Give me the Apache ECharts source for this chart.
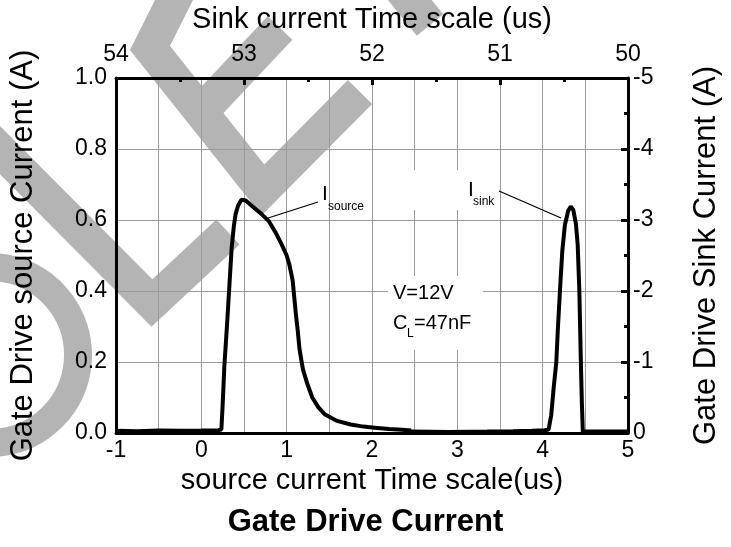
<!DOCTYPE html>
<html>
<head>
<meta charset="utf-8">
<script src="https://cdn.jsdelivr.net/npm/echarts@6/dist/echarts.min.js"></script>
<style>
html,body{margin:0;padding:0;background:#fff;}
#c{width:731px;height:547px;}
</style>
</head>
<body>
<div id="c"></div>
<script>
// ---- data ----
const sourceTimeUs = [-1,-0.75,-0.5,-0.25,0,0.2,0.235,0.25,0.27,0.3,0.33,0.355,0.38,0.4,0.43,0.47,0.52,0.6,0.7,0.79,0.87,0.94,1.0,1.03,1.07,1.09,1.11,1.13,1.15,1.19,1.24,1.3,1.37,1.45,1.59,1.75,1.9,2.03,2.2,2.35,2.46];
const sourceCurrentA = [0.006,0.005,0.007,0.006,0.007,0.008,0.01,0.08,0.19,0.3,0.42,0.52,0.58,0.615,0.64,0.657,0.655,0.638,0.618,0.597,0.565,0.532,0.5,0.476,0.43,0.38,0.33,0.288,0.237,0.18,0.14,0.1,0.073,0.052,0.034,0.024,0.018,0.015,0.011,0.009,0.007];
const sinkTimeUs = [51.7,51.4,51.1,50.9,50.75,50.65,50.62,50.6,50.58,50.56,50.547,50.527,50.513,50.493,50.467,50.447,50.427,50.407,50.393,50.38,50.373,50.367,50.36,50.353,50.3,50.15,50.0];
const sinkCurrentA = [-0.02,-0.015,-0.02,-0.025,-0.03,-0.04,-0.05,-0.25,-0.65,-1.0,-1.5,-2.15,-2.57,-2.93,-3.13,-3.19,-3.14,-2.95,-2.65,-2.0,-1.4,-0.9,-0.4,-0.02,-0.02,-0.02,-0.02];
const bottomTicks = [-1,0,1,2,3,4,5];
const leftTicks = ['0.0','0.2','0.4','0.6','0.8','1.0'];
const rightTicks = [0,-1,-2,-3,-4,-5];
const topTicks = [54,53,52,51,50];

const FONT = 'Liberation Sans, Arial, sans-serif';
const chart = echarts.init(document.getElementById('c'), null, {renderer:'canvas'});
const srcData = sourceTimeUs.map((t,i)=>[t, sourceCurrentA[i]]);
const sinkData = sinkTimeUs.map((t,i)=>[t, sinkCurrentA[i]]);
const GL = {show:true, lineStyle:{color:'#9a9a9a', width:1}};
const AL = {show:true, onZero:false, lineStyle:{color:'#000', width:3}};
const WM = '#b4b4b4';
const wmLine = pts => ({type:'polyline', shape:{points:pts}, style:{stroke:WM, lineWidth:34, fill:null, lineJoin:'miter', lineCap:'butt'}, z:-10, silent:true});

chart.setOption({
  animation:false,
  backgroundColor:'#fff',
  title:{text:'Gate Drive Current', left:'center', top:502, textStyle:{fontFamily:FONT, fontSize:31, fontWeight:'bold', color:'#000'}},
  grid:{left:114, top:76, width:514, height:357, containLabel:false},
  xAxis:[
    {type:'value', position:'bottom', min:-1, max:5, interval:0.5,
     axisLine:AL, axisTick:{show:false}, splitLine:GL,
     axisLabel:{fontFamily:FONT, fontSize:23, color:'#000', margin:6,
       formatter:v=> bottomTicks.includes(v) ? String(v) : ''},
     name:'source current Time scale(us)', nameLocation:'middle', nameGap:30,
     nameTextStyle:{fontFamily:FONT, fontSize:29, color:'#000'}},
    {type:'value', position:'top', min:50, max:54, interval:1, inverse:true,
     axisLine:AL, axisTick:{show:true, inside:true, length:7, lineStyle:{width:3,color:'#000'}},
     minorTick:{show:true, splitNumber:2, length:4, lineStyle:{width:3,color:'#000'}},
     splitLine:{show:false},
     axisLabel:{fontFamily:FONT, fontSize:23, color:'#000', margin:12,
       formatter:v=> topTicks.includes(v) ? String(v) : ''},
     name:'Sink current Time scale (us)', nameLocation:'middle', nameGap:44,
     nameTextStyle:{fontFamily:FONT, fontSize:29, color:'#000'}}
  ],
  yAxis:[
    {type:'value', position:'left', min:0, max:1, interval:0.2,
     axisLine:AL, axisTick:{show:false}, splitLine:GL,
     axisLabel:{fontFamily:FONT, fontSize:23, color:'#000', margin:9,
       formatter:v=> leftTicks[Math.round(v*5)]},
     name:'Gate Drive source Current (A)', nameLocation:'middle', nameGap:77, nameRotate:90,
     nameTextStyle:{fontFamily:FONT, fontSize:31, color:'#000'}},
    {type:'value', position:'right', min:-5, max:0, interval:1, inverse:true,
     axisLine:AL, axisTick:{show:true, inside:true, length:7, lineStyle:{width:3,color:'#000'}},
     minorTick:{show:true, splitNumber:2, length:4, lineStyle:{width:3,color:'#000'}},
     splitLine:{show:false},
     axisLabel:{fontFamily:FONT, fontSize:23, color:'#000', margin:5,
       formatter:v=> rightTicks.includes(v) ? String(v) : ''},
     name:'Gate Drive Sink Current (A)', nameLocation:'middle', nameGap:63, nameRotate:90,
     nameTextStyle:{fontFamily:FONT, fontSize:31, color:'#000'}}
  ],
  series:[
    {type:'line', name:'Isource', xAxisIndex:0, yAxisIndex:0, data:srcData, showSymbol:false,
     lineStyle:{color:'#000', width:4}, z:5},
    {type:'line', name:'Isink', xAxisIndex:1, yAxisIndex:1, data:sinkData, showSymbol:false,
     lineStyle:{color:'#000', width:4}, z:5}
  ],
  graphic:[
    // watermark strokes (behind the chart)
    wmLine([[180,-12],[150,48],[263,190],[360,92]]),
    wmLine([[201,112],[280,28]]),
    wmLine([[-20,130],[152,303],[228,232]]),
    wmLine([[392,-22],[430,25]]),
    {type:'arc', shape:{cx:-10, cy:355, r:88, startAngle:-1.5, endAngle:1.5, clockwise:true},
     style:{stroke:WM, lineWidth:28, fill:null}, z:-10, silent:true},
    // label boxes and annotations
    {type:'rect', shape:{x:388,y:276,width:95,height:74}, style:{fill:'#fff'}, z:1},
    {type:'rect', shape:{x:405,y:170,width:88,height:40}, style:{fill:'#fff'}, z:1},
    {type:'text', left:393, top:283, style:{text:'V=12V', font:'20px '+FONT, fill:'#000'}, z:10},
    {type:'text', left:393, top:313, style:{text:'C', font:'20px '+FONT, fill:'#000'}, z:10},
    {type:'text', left:407, top:328, style:{text:'L', font:'12px '+FONT, fill:'#000'}, z:10},
    {type:'text', left:414, top:313, style:{text:'=47nF', font:'20px '+FONT, fill:'#000'}, z:10},
    {type:'text', left:322, top:184, style:{text:'I', font:'21px '+FONT, fill:'#000'}, z:10},
    {type:'text', left:328, top:201, style:{text:'source', font:'12px '+FONT, fill:'#000'}, z:10},
    {type:'line', shape:{x1:318,y1:202,x2:265,y2:219}, style:{stroke:'#000', lineWidth:1.3}, z:10},
    {type:'text', left:468, top:180, style:{text:'I', font:'21px '+FONT, fill:'#000'}, z:10},
    {type:'text', left:473, top:196, style:{text:'sink', font:'12px '+FONT, fill:'#000'}, z:10},
    {type:'line', shape:{x1:499,y1:191,x2:561,y2:218}, style:{stroke:'#000', lineWidth:1.3}, z:10}
  ]
});
</script>
</body>
</html>
